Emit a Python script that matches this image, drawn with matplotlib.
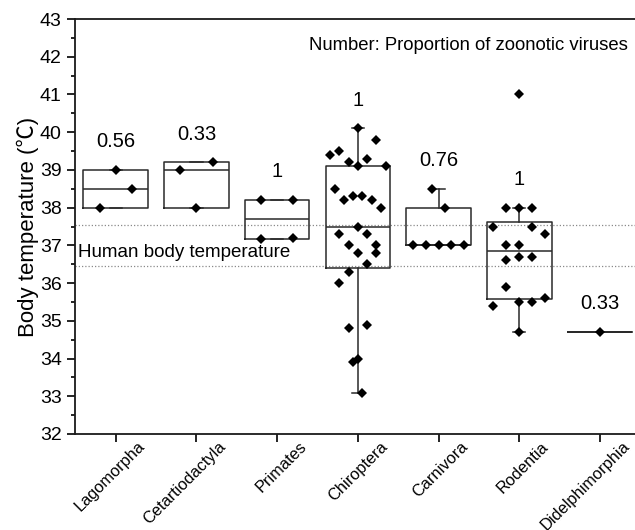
import numpy as np
import matplotlib
matplotlib.use('Agg')
import matplotlib.pyplot as plt
from matplotlib.transforms import ScaledTranslation

plt.rcParams['font.family'] = ['Liberation Sans', 'Noto Sans CJK SC', 'DejaVu Sans']

# ---------------- data ----------------
categories = ['Lagomorpha', 'Cetartiodactyla', 'Primates', 'Chiroptera',
              'Carnivora', 'Rodentia', 'Didelphimorphia']
lagomorpha = [38.0, 39.0, 38.5]
cetartiodactyla = [39.0, 38.0, 39.2]
primates = [38.2, 37.16, 38.2, 37.19]
chiroptera = [39.4, 39.5, 39.2, 39.1, 39.3, 39.8, 39.1, 40.1,
              38.5, 38.2, 38.3, 38.3, 38.2, 38.0,
              37.3, 37.0, 37.5, 37.3, 37.0,
              36.0, 36.3, 36.8, 36.5, 36.8,
              34.8, 34.0, 34.9, 33.9, 33.1]
carnivora = [37.0, 37.0, 37.0, 37.0, 37.0, 38.5, 38.0]
rodentia = [41.0, 38.0, 38.0, 38.0, 37.5, 37.0, 37.0, 37.5, 37.3,
            36.6, 36.7, 36.7, 35.4, 35.9, 35.5, 35.5, 35.6, 34.7]
didelphimorphia = [34.7]
proportion_labels = ['0.56', '0.33', '1', '1', '0.76', '1', '0.33']
human_range = [36.45, 37.55]
y_ticks = list(range(32, 44))

groups = [lagomorpha, cetartiodactyla, primates, chiroptera,
          carnivora, rodentia, didelphimorphia]

BOX_W = 0.8


def bin_offsets(values, width):
    v = np.asarray(values, dtype=float)
    bins = np.floor(v + 1e-9)
    ub = np.unique(bins)
    maxc = max(int(np.sum(bins == b)) for b in ub)
    step = width / maxc
    off = np.zeros(len(v))
    for b in ub:
        idx = np.where(bins == b)[0]
        n = len(idx)
        off[idx] = (np.arange(n) - (n - 1) / 2.0) * step
    return off


def box_stats(values, label):
    v = np.sort(np.asarray(values, dtype=float))
    q1, med, q3 = np.percentile(v, [25, 50, 75], method='weibull')
    iqr = q3 - q1
    lo = v[v >= q1 - 1.5 * iqr].min()
    hi = v[v <= q3 + 1.5 * iqr].max()
    return dict(med=med, q1=q1, q3=q3, whislo=lo, whishi=hi,
                fliers=[], label=label)


# ---------------- figure ----------------
fig = plt.figure(figsize=(6.35, 5.3), dpi=100)
L, R, T, B = 75.4, 640.3, 19, 434
ax = fig.add_axes([L / 635, (530 - B) / 530, (R - L) / 635, (B - T) / 530])

positions = np.arange(1, len(categories) + 1)
stats = [box_stats(g, c) for g, c in zip(groups, categories)]

line_col = '#2a2a2a'
ax.bxp(stats, positions=positions, widths=BOX_W, showfliers=False,
       capwidths=0.15,
       boxprops=dict(color=line_col, linewidth=1.1),
       medianprops=dict(color=line_col, linewidth=1.1),
       whiskerprops=dict(color=line_col, linewidth=1.1),
       capprops=dict(color=line_col, linewidth=1.1),
       manage_ticks=False, zorder=2)

for pos, g in zip(positions, groups):
    off = bin_offsets(g, BOX_W)
    ax.plot(pos + off, g, 'D', color='black', ms=4.9, mew=0, zorder=3,
            clip_on=False)

for pos, st, lab in zip(positions, stats, proportion_labels):
    ax.text(pos, st['whishi'] + 0.75, lab, ha='center', va='center',
            fontsize=14.5)

for h in human_range:
    ax.axhline(h, color='#8a8a8a', linewidth=0.9,
               linestyle=(0, (1, 1.6)), zorder=1)

ax.text(0.005, 0.4378, 'Human body temperature', transform=ax.transAxes,
        ha='left', va='center', fontsize=13.5)
ax.text(0.978, 0.9357, 'Number: Proportion of zoonotic viruses',
        transform=ax.transAxes, ha='right', va='center', fontsize=13.3)

ax.set_xlim(0.5, 7.5)
ax.set_ylim(32, 43)
ax.set_yticks(y_ticks)
ax.set_yticks(np.arange(32.5, 43, 1.0), minor=True)
ax.set_xticks(positions)
ax.set_xticklabels([])
label_tf = ax.get_xaxis_transform() + ScaledTranslation(0.27, -0.10,
                                                        fig.dpi_scale_trans)
for pos, cat in zip(positions, categories):
    ax.text(pos, 0, cat, transform=label_tf, rotation=45, ha='right',
            va='center', rotation_mode='anchor', fontsize=11.8, clip_on=False)

ax.tick_params(axis='x', which='major', length=6, width=1.2,
               direction='out', colors='black')
ax.tick_params(axis='y', which='major', length=5.8, width=1.2, pad=4,
               direction='out', labelsize=14)
ax.tick_params(axis='y', which='minor', length=3, width=1.2, direction='out')

ax.spines['right'].set_visible(False)
for s in ['left', 'bottom', 'top']:
    ax.spines[s].set_linewidth(1.3)
    ax.spines[s].set_color('#1a1a1a')

ax.set_ylabel('Body temperature (℃)', fontsize=16)
ax.yaxis.set_label_coords(-0.064, 0.5)

fig.savefig('out.png', dpi=100)
